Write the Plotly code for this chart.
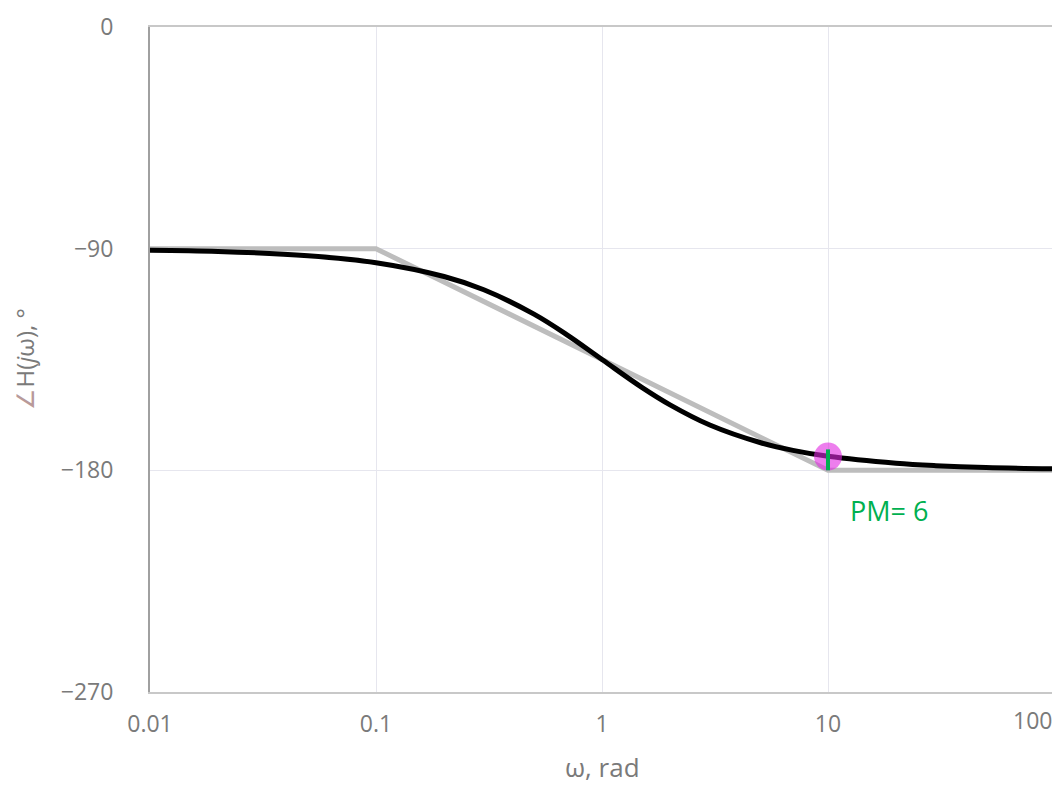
import math
import plotly.graph_objects as go

# Asymptote (straight-line approximation)
asym_w = [0.01, 0.1, 10, 100]
asym_phase = [-90, -90, -180, -180]

w = [0.01, 0.02, 0.05, 0.1, 0.2, 0.3, 0.5, 0.7, 1, 1.5, 2, 3, 5, 7, 10, 20, 30, 50, 100]
phase = [-90.6, -91.1, -92.9, -95.7, -101.3, -106.7, -116.6, -125.0, -135.0, -146.3,
         -153.4, -161.6, -168.7, -171.9, -174.3, -177.1, -178.1, -178.9, -179.4]

pm_w = [10]
pm_phase = [-174.4]
pm_tick = [-171.5, -180]
pm_label = "PM= 6"

x_ticks = [0.01, 0.1, 1, 10, 100]
x_ticklabels = ["0.01", "0.1", "1", "10", "100"]
y_ticks = [0, -90, -180, -270]
y_ticklabels = ["0", "\u221290", "\u2212180", "\u2212270"]
x_title = "\u03c9, rad"
y_title = "<span style='color:#b89a9a'>\u2220</span>H(<i>j</i>\u03c9), \u00b0"

GRAY = "#7a7a7a"
FONT = "Open Sans, sans-serif"

fig = go.Figure()
fig.add_trace(go.Scatter(x=asym_w, y=asym_phase, mode="lines",
                         line=dict(color="#bdbdbd", width=5), hoverinfo="skip"))
fig.add_trace(go.Scatter(x=w, y=phase, mode="lines", line_shape="spline",
                         line=dict(color="#000000", width=5)))
fig.add_trace(go.Scatter(x=pm_w, y=pm_phase, mode="markers",
                         marker=dict(size=28, color="rgba(225,40,225,0.6)", line=dict(width=0))))
fig.add_trace(go.Scatter(x=pm_w * 2, y=pm_tick, mode="lines",
                         line=dict(color="#00b050", width=4)))
fig.add_annotation(x=math.log10(12.3), y=-188.0, xref="x", yref="y", text=pm_label,
                   showarrow=False, xanchor="left", yanchor="top",
                   font=dict(family="Open Sans, Calibri, sans-serif", size=27, color="#00b050"))

# last x tick label kept inside the figure (right-aligned at the plot edge)
fig.add_annotation(x=math.log10(x_ticks[-1]), y=0, xref="x", yref="paper",
                   text=x_ticklabels[-1], showarrow=False, xanchor="right", yanchor="top",
                   xshift=0, yshift=-10,
                   font=dict(family=FONT, size=23, color=GRAY))
# axis titles
fig.add_annotation(x=0.5, y=0, xref="paper", yref="paper", text=x_title, showarrow=False,
                   xanchor="center", yanchor="middle", yshift=-75,
                   font=dict(family=FONT, size=26, color=GRAY))
fig.add_annotation(x=0, y=0.5, xref="paper", yref="paper", text=y_title, showarrow=False,
                   xanchor="center", yanchor="middle", xshift=-126, textangle=-90,
                   font=dict(family=FONT, size=24, color=GRAY))

fig.update_layout(
    width=1052, height=780,
    margin=dict(l=142, r=6, t=19, b=96),
    paper_bgcolor="white", plot_bgcolor="white",
    showlegend=False,
    font=dict(family=FONT, color=GRAY, size=23),
)
fig.update_xaxes(type="log", range=[-2, 2], tickvals=x_ticks,
                 ticktext=x_ticklabels[:-1] + [""],
                 showgrid=True, gridcolor="#e6e6ee", gridwidth=1,
                 showline=True, linecolor="#c8c8c8", linewidth=2, mirror=True,
                 ticks="", automargin=False, ticklabelstandoff=10,
                 zeroline=False)
fig.update_yaxes(range=[-270, 0], tickvals=y_ticks, ticktext=y_ticklabels,
                 showgrid=True, gridcolor="#e6e6ee", gridwidth=1,
                 showline=True, linecolor="#a0a0a0", linewidth=2, mirror=True,
                 ticks="", ticklabelstandoff=30, automargin=False,
                 zeroline=False)

fig.write_html("out.html")
